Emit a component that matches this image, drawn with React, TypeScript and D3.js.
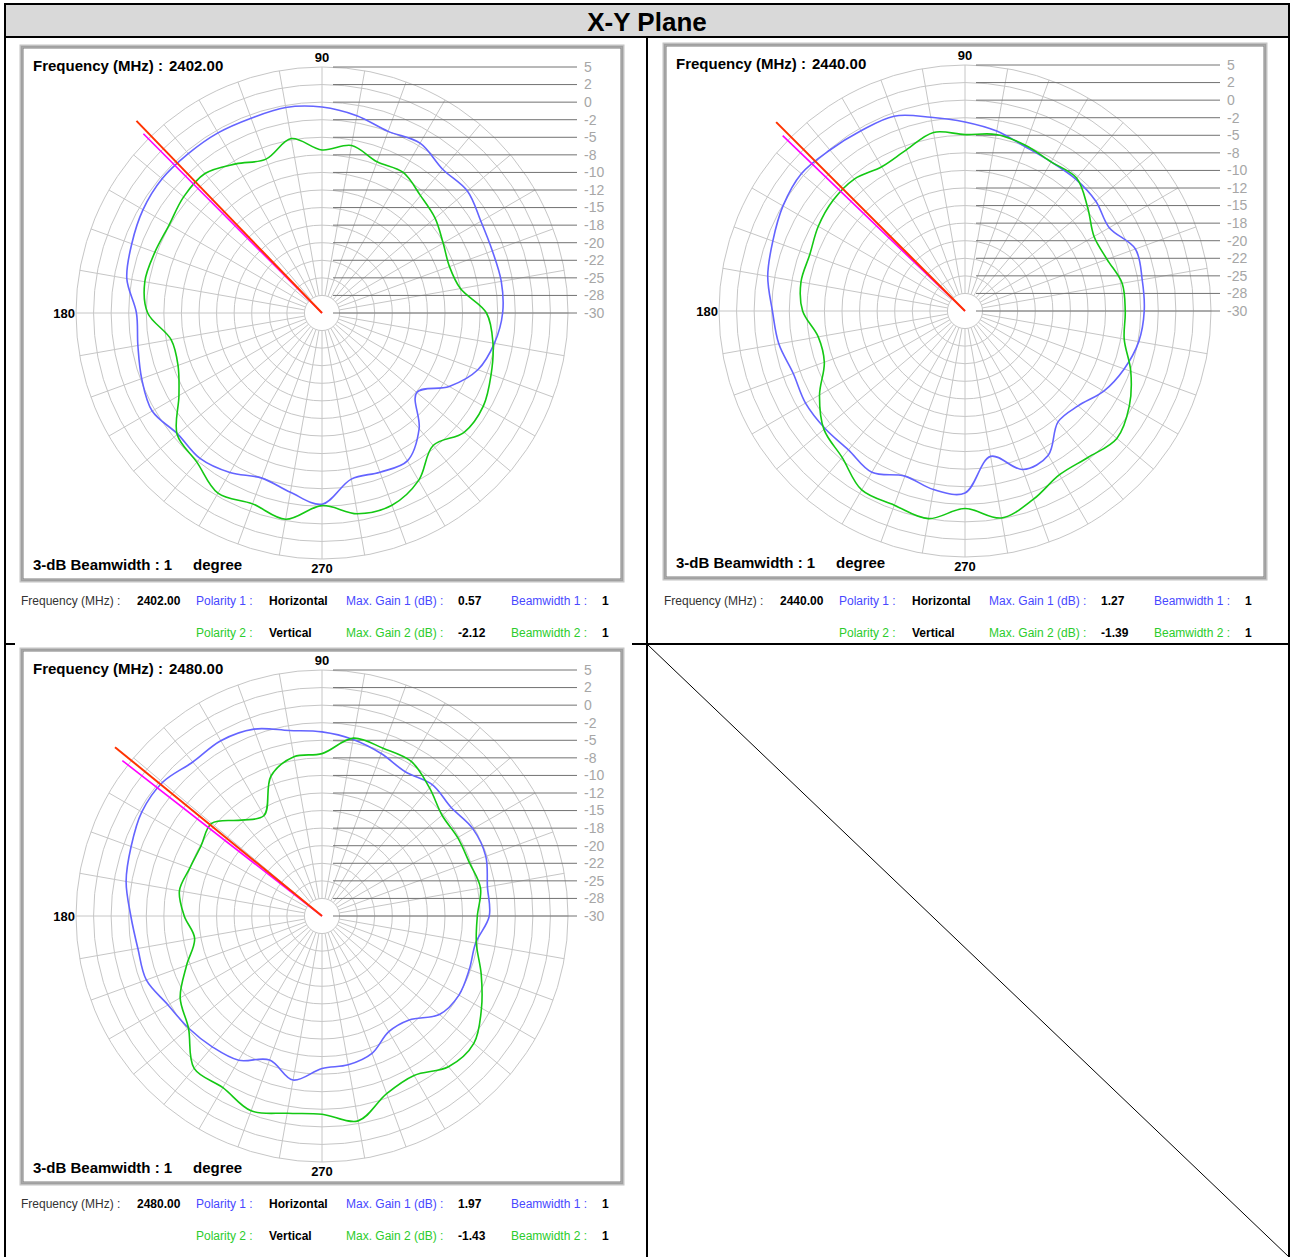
import * as d3 from 'd3'

// sample angles (deg, counter-clockwise from 0 = right)
const angles = [0, 10, 20, 30, 40, 50, 60, 70, 80, 90, 100, 110, 120, 130, 140, 150, 160, 170,
  180, 190, 200, 210, 220, 230, 240, 250, 260, 270, 280, 290, 300, 310, 320, 330, 340, 350]

const ringValues = [-30, -27.5, -25, -22.5, -20, -17.5, -15, -12.5, -10, -7.5, -5, -2.5, 0, 2.5, 5]
const ringLabels = ['-30', '-28', '-25', '-22', '-20', '-18', '-15', '-12', '-10', '-8', '-5', '-2', '0', '2', '5']

const frequencies = ['2402.00', '2440.00', '2480.00']
const maxGain1 = ['0.57', '1.27', '1.97']
const maxGain2 = ['-2.12', '-1.39', '-1.43']
const beamwidth1 = ['1', '1', '1']
const beamwidth2 = ['1', '1', '1']

// gain in dB, Polarity 1 (Horizontal) and Polarity 2 (Vertical)
const horiz2402 = [-4.3, -4.1, -4.2, -3.9, -3.0, -3.3, -2.1, -2.5, -1.5, -0.7, -0.3, -0.5, -0.4, -0.4, -0.3, -0.6, -1.2, -1.8,
  -3.6, -3.4, -2.7, -2.1, -3.2, -3.0, -3.8, -5.0, -4.1, -2.8, -6.0, -5.9, -5.7, -8.5, -12.4, -9.1, -6.4, -5.1]
const vert2402 = [-6.6, -10.0, -10.7, -10.1, -9.0, -8.2, -6.9, -7.1, -5.8, -6.8, -4.8, -6.7, -5.5, -4.1, -4.3, -4.9, -4.7, -4.4,
  -5.2, -8.2, -8.2, -6.5, -3.1, -2.3, -0.4, -1.1, -0.2, -2.6, -1.0, -0.9, -2.5, -5.4, -3.6, -3.5, -4.4, -5.3]

const horiz2440 = [-4.5, -4.4, -4.2, -6.3, -5.7, -5.5, -5.5, -5.1, -4.0, -3.1, -2.0, -0.5, -0.4, -0.1, 0.4, -0.1, -0.9, -1.5,
  -2.6, -3.1, -4.0, -3.8, -4.0, -4.2, -3.5, -5.0, -4.2, -4.1, -9.0, -6.0, -6.3, -9.4, -9.0, -7.2, -5.9, -4.9]
const vert2440 = [-7.2, -7.3, -8.5, -8.8, -7.2, -5.3, -5.5, -4.9, -4.5, -4.9, -4.2, -5.6, -6.3, -5.5, -5.5, -5.9, -6.5, -6.3,
  -6.9, -8.8, -8.7, -6.1, -3.8, -2.8, -0.6, -0.6, 0.0, -1.9, -0.1, -1.5, -3.1, -2.8, -1.8, -3.0, -4.9, -7.0]

const horiz2480 = [-6.2, -6.1, -5.2, -5.2, -6.0, -5.6, -6.3, -5.4, -4.5, -3.8, -3.2, -1.7, -1.2, -1.4, -0.4, -0.4, -1.1, -1.7,
  -2.8, -3.4, -3.4, -4.7, -5.2, -5.7, -6.3, -8.2, -6.3, -8.3, -8.5, -9.2, -11.0, -10.7, -8.2, -7.5, -7.7, -7.8]
const vert2480 = [-7.9, -7.1, -7.7, -7.7, -7.7, -6.2, -4.6, -4.6, -4.3, -6.9, -7.0, -8.8, -13.5, -12.2, -9.5, -10.1, -10.0, -9.4,
  -10.4, -11.6, -9.5, -6.7, -5.2, -1.7, -1.8, -0.5, -1.5, -1.8, -0.4, -3.1, -3.8, -2.0, -1.8, -3.8, -5.9, -7.7]

const horizSeries = [horiz2402, horiz2440, horiz2480]
const vertSeries = [vert2402, vert2440, vert2480]

// beam markers: angle (deg) and level (dB)
const markerAngle1 = [134.0, 135.0, 140.8]
const markerAngle2 = [134.9, 136.1, 142.1]
const markerLevel1 = [8, 8, 8]
const markerLevel2 = [6, 6, 6]

const FONT = "'Liberation Sans', Arial, sans-serif"
const BLUE = '#6464ff'
const GREEN = '#14c814'

// frame origin of each panel and footer rows
const panelPos = [
  { fx: 20, fy: 45, row1: 601, row2: 633 },
  { fx: 663, fy: 43, row1: 601, row2: 633 },
  { fx: 20, fy: 648, row1: 1204, row2: 1236 },
]

const rScale = d3.scaleLinear().domain([-30, 5]).range([0, 246])
const toRad = (deg: number) => ((90 - deg) * Math.PI) / 180

const radial = d3.lineRadial<number>()
  .angle((_, i) => toRad(angles[i]))
  .radius(d => rScale(d))
  .curve(d3.curveCatmullRomClosed.alpha(0.5))

function Panel({ idx }: { idx: number }) {
  const { fx, fy, row1, row2 } = panelPos[idx]
  const cx = fx + 302
  const cy = fy + 268
  const rMax = rScale(5)
  const rMin = rScale(-27.5)

  const marker = (a: number, lvl: number) => {
    const rr = rScale(lvl)
    return { x: cx + rr * Math.cos((a * Math.PI) / 180), y: cy - rr * Math.sin((a * Math.PI) / 180) }
  }
  const m1 = marker(markerAngle1[idx], markerLevel1[idx])
  const m2 = marker(markerAngle2[idx], markerLevel2[idx])

  return (
    <g>
      {/* frame */}
      <rect x={fx} y={fy} width={604} height={537} fill="#fff" stroke="#c4c4c4" strokeWidth={1} />
      <rect x={fx + 1.5} y={fy + 1.5} width={601} height={534} fill="none" stroke="#a0a0a0" strokeWidth={2} />
      <rect x={fx + 3} y={fy + 3} width={598} height={531} fill="none" stroke="#7a7a7a" strokeWidth={1} />

      {/* grid */}
      <g fill="none" stroke="#c6c6c6" strokeWidth={1}>
        {ringValues.slice(1).map(v => (
          <circle key={v} cx={cx} cy={cy} r={rScale(v)} />
        ))}
        {angles.map(a => (
          <line key={a}
            x1={cx + rMin * Math.cos((a * Math.PI) / 180)} y1={cy - rMin * Math.sin((a * Math.PI) / 180)}
            x2={cx + rMax * Math.cos((a * Math.PI) / 180)} y2={cy - rMax * Math.sin((a * Math.PI) / 180)} />
        ))}
      </g>

      {/* level scale */}
      {ringValues.map((v, i) => (
        <g key={v}>
          <line x1={cx + 11} x2={cx + 255} y1={cy - rScale(v)} y2={cy - rScale(v)} stroke="#727272" strokeWidth={1} />
          <text x={cx + 262} y={cy - rScale(v)} dy="0.35em" fontSize={14} fill="#a6a6a6" fontFamily={FONT}>
            {ringLabels[i]}
          </text>
        </g>
      ))}

      {/* patterns */}
      <path d={radial(horizSeries[idx]) || ''} transform={`translate(${cx},${cy})`} fill="none" stroke={BLUE} strokeWidth={1.6} strokeLinejoin="round" />
      <path d={radial(vertSeries[idx]) || ''} transform={`translate(${cx},${cy})`} fill="none" stroke={GREEN} strokeWidth={1.6} strokeLinejoin="round" />

      {/* beam markers */}
      <line x1={cx} y1={cy} x2={m2.x} y2={m2.y} stroke="#ff00ff" strokeWidth={1.6} />
      <line x1={cx} y1={cy} x2={m1.x} y2={m1.y} stroke="#ff3300" strokeWidth={2} />

      {/* labels */}
      <g fontFamily={FONT} fontWeight="bold" fill="#000">
        <text x={fx + 13} y={fy + 21} dy="0.35em" fontSize={15}>Frequency (MHz) :</text>
        <text x={fx + 149} y={fy + 21} dy="0.35em" fontSize={15}>{frequencies[idx]}</text>
        <text x={cx} y={cy - 256} dy="0.35em" fontSize={13} textAnchor="middle">90</text>
        <text x={cx - 247} y={cy} dy="0.35em" fontSize={13} textAnchor="end">180</text>
        <text x={cx} y={cy + 255} dy="0.35em" fontSize={13} textAnchor="middle">270</text>
        <text x={fx + 13} y={fy + 520} dy="0.35em" fontSize={15}>3-dB Beamwidth : 1</text>
        <text x={fx + 173} y={fy + 520} dy="0.35em" fontSize={15}>degree</text>
      </g>

      {/* footer */}
      <g fontFamily={FONT} fontSize={12}>
        <text x={fx + 1} y={row1} dy="0.35em" fill="#333">Frequency (MHz) :</text>
        <text x={fx + 117} y={row1} dy="0.35em" fontWeight="bold">{frequencies[idx]}</text>
        <text x={fx + 176} y={row1} dy="0.35em" fill="#4848ff">Polarity 1 :</text>
        <text x={fx + 249} y={row1} dy="0.35em" fontWeight="bold">Horizontal</text>
        <text x={fx + 326} y={row1} dy="0.35em" fill="#4848ff">Max. Gain 1 (dB) :</text>
        <text x={fx + 438} y={row1} dy="0.35em" fontWeight="bold">{maxGain1[idx]}</text>
        <text x={fx + 491} y={row1} dy="0.35em" fill="#4848ff">Beamwidth 1 :</text>
        <text x={fx + 582} y={row1} dy="0.35em" fontWeight="bold">{beamwidth1[idx]}</text>

        <text x={fx + 176} y={row2} dy="0.35em" fill="#2ccc2c">Polarity 2 :</text>
        <text x={fx + 249} y={row2} dy="0.35em" fontWeight="bold">Vertical</text>
        <text x={fx + 326} y={row2} dy="0.35em" fill="#2ccc2c">Max. Gain 2 (dB) :</text>
        <text x={fx + 438} y={row2} dy="0.35em" fontWeight="bold">{maxGain2[idx]}</text>
        <text x={fx + 491} y={row2} dy="0.35em" fill="#2ccc2c">Beamwidth 2 :</text>
        <text x={fx + 582} y={row2} dy="0.35em" fontWeight="bold">{beamwidth2[idx]}</text>
      </g>
    </g>
  )
}

export default function App() {
  return (
    <svg width={1290} height={1257} style={{ position: 'absolute', left: 0, top: 0, background: '#fff' }}>
      {/* table */}
      <rect x={5} y={5} width={1284} height={32} fill="#d9d9d9" />
      <g stroke="#000" strokeWidth={2} fill="none">
        <line x1={5} y1={4} x2={5} y2={1257} />
        <line x1={1289} y1={4} x2={1289} y2={1257} />
        <line x1={4} y1={4} x2={1290} y2={4} />
        <line x1={4} y1={37} x2={1290} y2={37} />
        <line x1={647} y1={37} x2={647} y2={1257} />
        <line x1={5} y1={644} x2={1289} y2={644} />
      </g>
      <line x1={648} y1={645} x2={1289} y2={1257} stroke="#000" strokeWidth={1} />
      <text x={647} y={22} dy="0.35em" textAnchor="middle" fontFamily={FONT} fontWeight="bold" fontSize={26}>X-Y Plane</text>

      {/* plot image in lower cell hides the divider */}
      <rect x={15} y={641} width={617} height={548} fill="#fff" />

      {[0, 1, 2].map(i => <Panel key={i} idx={i} />)}
    </svg>
  )
}
